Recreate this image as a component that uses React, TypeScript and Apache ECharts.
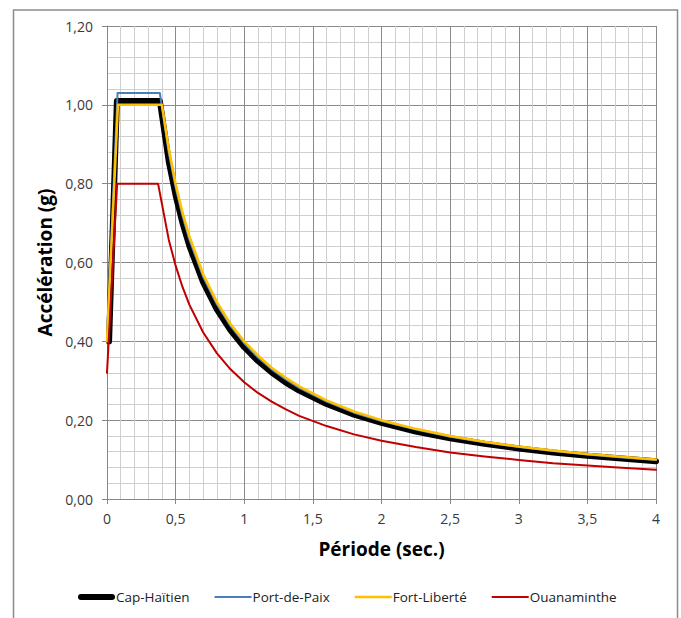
import React, { useEffect, useRef } from "react";
import * as echarts from "echarts";

const seriesNames = ["Cap-Haïtien", "Port-de-Paix", "Fort-Liberté", "Ouanaminthe"];
const seriesColors = ["#000000", "#4a7ebb", "#ffc000", "#c00000"];
const seriesWidths = [6, 2, 2.5, 2];
const legendIcons = [
  "path://M3,0 H34 A3,3 0 0 1 34,6 H3 A3,3 0 0 1 3,0 Z",
  "path://M0,0 H37 V2.2 H0 Z",
  "path://M0,0 H37 V2.6 H0 Z",
  "path://M0,0 H37 V2.2 H0 Z",
];

// [période (s), accélération (g)]
const capHaitien: [number, number][] = [
  [0.015, 0.40], [0.072, 1.01], [0.385, 1.01], [0.45, 0.856], [0.5, 0.770], [0.55, 0.700],
  [0.6, 0.642], [0.7, 0.550], [0.8, 0.481], [0.9, 0.428], [1.0, 0.385], [1.1, 0.350],
  [1.2, 0.321], [1.3, 0.296], [1.4, 0.275], [1.6, 0.241], [1.8, 0.214], [2.0, 0.193],
  [2.25, 0.171], [2.5, 0.154], [2.75, 0.140], [3.0, 0.128], [3.25, 0.118], [3.5, 0.110],
  [3.75, 0.103], [4.0, 0.096],
];
const portDePaix: [number, number][] = [
  [0, 0.41], [0.077, 1.03], [0.385, 1.03], [0.45, 0.878], [0.5, 0.790], [0.55, 0.718],
  [0.6, 0.658], [0.7, 0.564], [0.8, 0.494], [0.9, 0.439], [1.0, 0.395], [1.1, 0.359],
  [1.2, 0.329], [1.3, 0.304], [1.4, 0.282], [1.6, 0.247], [1.8, 0.219], [2.0, 0.198],
  [2.25, 0.176], [2.5, 0.158], [2.75, 0.144], [3.0, 0.132], [3.25, 0.122], [3.5, 0.113],
  [3.75, 0.105], [4.0, 0.099],
];
const fortLiberte: [number, number][] = [
  [0, 0.40], [0.08, 1.00], [0.40, 1.00], [0.45, 0.889], [0.5, 0.800], [0.55, 0.727],
  [0.6, 0.667], [0.7, 0.571], [0.8, 0.500], [0.9, 0.444], [1.0, 0.400], [1.1, 0.364],
  [1.2, 0.333], [1.3, 0.308], [1.4, 0.286], [1.6, 0.250], [1.8, 0.222], [2.0, 0.200],
  [2.25, 0.178], [2.5, 0.160], [2.75, 0.145], [3.0, 0.133], [3.25, 0.123], [3.5, 0.114],
  [3.75, 0.107], [4.0, 0.100],
];
const ouanaminthe: [number, number][] = [
  [0, 0.32], [0.074, 0.80], [0.372, 0.80], [0.45, 0.658], [0.5, 0.592], [0.55, 0.538],
  [0.6, 0.493], [0.7, 0.423], [0.8, 0.370], [0.9, 0.329], [1.0, 0.296], [1.1, 0.269],
  [1.2, 0.247], [1.3, 0.228], [1.4, 0.211], [1.6, 0.185], [1.8, 0.164], [2.0, 0.148],
  [2.25, 0.132], [2.5, 0.118], [2.75, 0.108], [3.0, 0.099], [3.25, 0.091], [3.5, 0.085],
  [3.75, 0.079], [4.0, 0.074],
];
const seriesData = [capHaitien, portDePaix, fortLiberte, ouanaminthe];

const xTitle = "Période (sec.)";
const yTitle = "Accélération (g)";

const FONT = "'Open Sans', 'Noto Sans', sans-serif";

export default function App() {
  const ref = useRef<HTMLDivElement>(null);
  useEffect(() => {
    if (!ref.current) return;
    const chart = echarts.init(ref.current, null, { renderer: "svg" });
    chart.setOption({
      animation: false,
      backgroundColor: "#ffffff",
      textStyle: { fontFamily: FONT },
      graphic: [
        {
          type: "rect",
          left: 11,
          top: 7.5,
          shape: { x: 0, y: 0, width: 664, height: 700 },
          style: { fill: "none", stroke: "#8c8c8c", lineWidth: 1.5 },
          silent: true,
          z: -10,
        },
      ],
      grid: { left: 107, right: 25, top: 26, bottom: 119, containLabel: false },
      legend: {
        bottom: 14,
        left: 78,
        padding: 0,
        itemWidth: 37,
        itemHeight: 6,
        itemGap: 25,
        symbolKeepAspect: true,
        textStyle: { fontFamily: FONT, fontSize: 13.5, color: "#222", padding: [0, 0, 0, -4] },
        data: seriesNames.map((name, i) => ({ name, icon: legendIcons[i], itemStyle: { color: seriesColors[i] } })),
      },
      xAxis: {
        type: "value",
        min: 0,
        max: 4,
        interval: 0.5,
        name: xTitle,
        nameLocation: "middle",
        nameGap: 40,
        nameTextStyle: { fontFamily: FONT, fontSize: 19, fontWeight: "bold", color: "#000" },
        axisLine: { show: true, lineStyle: { color: "#878787", width: 1 } },
        axisTick: { show: true, length: 5, lineStyle: { color: "#878787" } },
        axisLabel: {
          margin: 12,
          fontFamily: FONT,
          fontSize: 14,
          color: "#3a3a3a",
          formatter: (v: number) => String(v).replace(".", ","),
        },
        splitLine: { show: true, lineStyle: { color: "#8a8a8a", width: 1 } },
        minorTick: { show: false, splitNumber: 5 },
        minorSplitLine: { show: true, lineStyle: { color: "#cfcfcf", width: 1 } },
      },
      yAxis: {
        type: "value",
        min: 0,
        max: 1.2,
        interval: 0.2,
        name: yTitle,
        nameLocation: "middle",
        nameGap: 48,
        nameTextStyle: { fontFamily: FONT, fontSize: 19, fontWeight: "bold", color: "#000" },
        axisLine: { show: true, lineStyle: { color: "#878787", width: 1 } },
        axisTick: { show: true, length: 5, lineStyle: { color: "#878787" } },
        axisLabel: {
          margin: 14,
          fontFamily: FONT,
          fontSize: 14,
          color: "#3a3a3a",
          formatter: (v: number) => v.toFixed(2).replace(".", ","),
        },
        splitLine: { show: true, lineStyle: { color: "#8a8a8a", width: 1 } },
        minorTick: { show: false, splitNumber: 5 },
        minorSplitLine: { show: true, lineStyle: { color: "#cfcfcf", width: 1 } },
      },
      series: seriesNames.map((name, i) => ({
        name,
        type: "line",
        data: seriesData[i],
        symbol: "none",
        showSymbol: false,
        smooth: false,
        color: seriesColors[i],
        lineStyle: { color: seriesColors[i], width: seriesWidths[i], cap: "round", join: "round" },
        z: 2 + i,
      })),
    });
    return () => chart.dispose();
  }, []);
  return (
    <div
      ref={ref}
      style={{ position: "absolute", left: 0, top: 0, width: 681, height: 618 }}
    />
  );
}
